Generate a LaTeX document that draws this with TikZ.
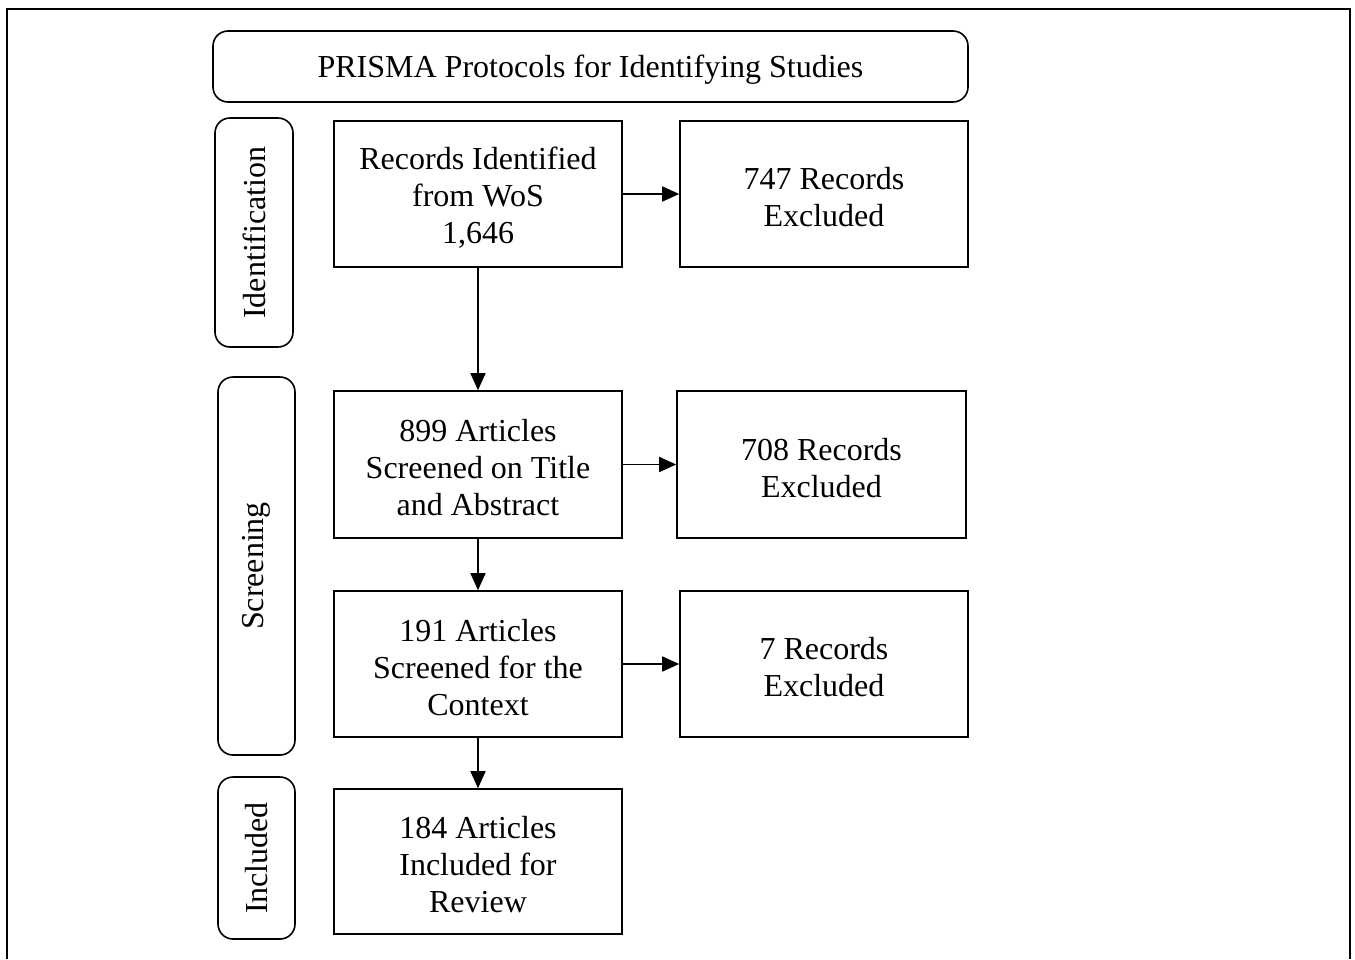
\documentclass[tikz,border=0pt]{standalone}
\usepackage{fontspec}
\setmainfont{Liberation Serif}
\usetikzlibrary{arrows.meta}
\begin{document}
\begin{tikzpicture}[x=1pt,y=-1pt,
  every node/.style={font=\fontsize{32}{37}\selectfont, align=center, inner sep=0pt},
  txt/.style={label={[yshift=-3.5pt]center:#1}},
  box/.style={draw, line width=1.6pt, minimum width=288pt, minimum height=146pt},
  roundbox/.style={draw, line width=1.6pt, rounded corners=15pt},
  stagebox/.style={roundbox, rotate=90},
  arr/.style={line width=1.6pt, -{Triangle[length=17pt,width=15pt]}}
]
\useasboundingbox (0,0) rectangle (1355,959);
\draw[line width=2.4pt] (7,959) -- (7,9) -- (1350,9) -- (1350,959);

\node[roundbox, minimum width=755pt, minimum height=71pt, txt={PRISMA Protocols for Identifying Studies}] (title) at (590.5,66.5) {};

\node[stagebox, minimum width=229pt, minimum height=78pt] (ident) at (254,232.5) {Identification};
\node[stagebox, minimum width=378pt, minimum height=77pt] (screen) at (256.5,566) {Screening};
\node[stagebox, minimum width=162pt, minimum height=77pt] (incl) at (256.5,858) {Included};

\node[box, txt={Records Identified\\from WoS\\1,646}] (b1) at (478,194) {};
\node[box, txt={747 Records\\Excluded}] (b2) at (824,194) {};
\node[box, minimum height=147pt, txt={899 Articles\\Screened on Title\\and Abstract}] (b3) at (478,464.5) {};
\node[box, minimum width=289pt, minimum height=147pt, txt={708 Records\\Excluded}] (b4) at (821.5,464.5) {};
\node[box, txt={191 Articles\\Screened for the\\Context}] (b5) at (478,664) {};
\node[box, txt={7 Records\\Excluded}] (b6) at (824,664) {};
\node[box, minimum height=145pt, txt={184 Articles\\Included for\\Review}] (b7) at (478,861.5) {};

\draw[arr] (b1.east) -- (b2.west);
\draw[arr] (b3.east) -- (b4.west);
\draw[arr] (b5.east) -- (b6.west);
\draw[arr] (b1.south) -- (b3.north);
\draw[arr] (b3.south) -- (b5.north);
\draw[arr] (b5.south) -- (b7.north);
\end{tikzpicture}
\end{document}
